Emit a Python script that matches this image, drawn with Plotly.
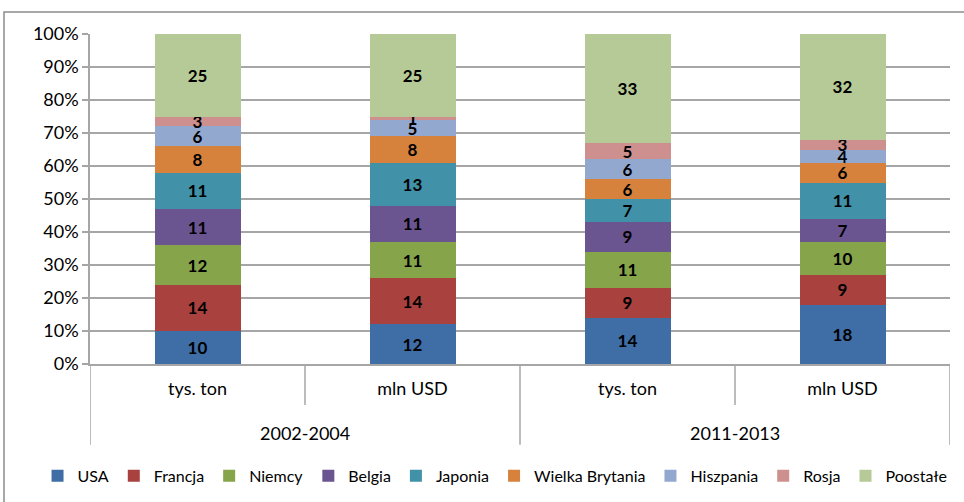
import plotly.graph_objects as go

periods = ["2002-2004", "2002-2004", "2011-2013", "2011-2013"]
units = ["tys. ton", "mln USD", "tys. ton", "mln USD"]

series_names = ["USA", "Francja", "Niemcy", "Belgia", "Japonia",
                "Wielka Brytania", "Hiszpania", "Rosja", "Poostałe"]
usa = [10, 12, 14, 18]
francja = [14, 14, 9, 9]
niemcy = [12, 11, 11, 10]
belgia = [11, 11, 9, 7]
japonia = [11, 13, 7, 11]
wielka_brytania = [8, 8, 6, 6]
hiszpania = [6, 5, 6, 4]
rosja = [3, 1, 5, 3]
pozostale = [25, 25, 33, 32]
series_values = [usa, francja, niemcy, belgia, japonia,
                 wielka_brytania, hiszpania, rosja, pozostale]
colors = ["#3F6EA6", "#A9413F", "#86A44A", "#6B5590", "#4192A8",
          "#D6823D", "#93A8CE", "#CE908F", "#B5CA96"]

y_ticks = [0, 10, 20, 30, 40, 50, 60, 70, 80, 90, 100]
y_tick_labels = [f"{v}%" for v in y_ticks]

FONT = "Lato, 'Liberation Sans', sans-serif"
GRID = "#A6A6A6"

# bar positions on the category scale (index of each bar)
xpos = list(range(len(units)))

fig = go.Figure()
for name, vals, col in zip(series_names, series_values, colors):
    fig.add_trace(go.Bar(
        x=xpos, y=vals, name=name,
        marker=dict(color=col, line=dict(width=0)),
        text=[str(v) for v in vals], textposition="inside",
        insidetextanchor="middle", textangle=0,
        textfont=dict(family=FONT, size=17, color="black", weight="bold"),
        constraintext="none",
    ))

# group (period) labels and divider lines of the two-level category axis
annotations = []
shapes = [dict(type="rect", xref="paper", yref="paper",
               x0=-0.1, y0=-0.6, x1=1.2, y1=1.0667,
               line=dict(color="#8C8C8C", width=1.5), layer="below")]
groups = []
for i, p in enumerate(periods):
    if not groups or groups[-1][0] != p:
        groups.append([p, i, i])
    else:
        groups[-1][2] = i
for p, i0, i1 in groups:
    annotations.append(dict(x=(i0 + i1) / 2, xref="x", y=-0.209, yref="paper",
                            text=p, showarrow=False, yanchor="middle",
                            font=dict(family=FONT, size=18, color="black")))
    shapes.append(dict(type="line", xref="x", yref="paper", x0=i0 - 0.5, x1=i0 - 0.5,
                       y0=0, y1=-0.245, line=dict(color=GRID, width=1.5)))
    for k in range(i0, i1):
        shapes.append(dict(type="line", xref="x", yref="paper", x0=k + 0.5, x1=k + 0.5,
                           y0=0, y1=-0.124, line=dict(color=GRID, width=1.5)))
shapes.append(dict(type="line", xref="x", yref="paper", x0=len(units) - 0.5,
                   x1=len(units) - 0.5, y0=0, y1=-0.245, line=dict(color=GRID, width=1.5)))

fig.update_layout(
    barmode="stack", barnorm="percent",
    width=964, height=502,
    margin=dict(l=90, r=14, t=34, b=138, autoexpand=False),
    paper_bgcolor="white", plot_bgcolor="white",
    bargap=0.6,
    font=dict(family=FONT, size=18, color="black"),
    showlegend=True,
    legend=dict(orientation="h", xref="paper", x=-0.061, xanchor="left",
                yref="paper", y=-0.339, yanchor="middle",
                font=dict(family=FONT, size=16), itemwidth=30,
                traceorder="normal", bgcolor="rgba(0,0,0,0)"),
    annotations=annotations,
    shapes=shapes,
)
fig.update_yaxes(range=[0, 100], tickvals=y_ticks, ticktext=y_tick_labels,
                 showgrid=True, gridcolor=GRID, gridwidth=1.5,
                 showline=True, linecolor=GRID, linewidth=1.5,
                 ticks="outside", ticklen=6, tickcolor=GRID, tickwidth=1.5,
                 tickfont=dict(family=FONT, size=18), zeroline=False,
                 automargin=False)
fig.update_xaxes(range=[-0.5, len(units) - 0.5], tickvals=xpos, ticktext=units,
                 showline=True, linecolor=GRID, linewidth=1.5, showgrid=False,
                 zeroline=False, tickfont=dict(family=FONT, size=18), ticks="",
                 ticklabelstandoff=8, automargin=False)
fig.write_html("out.html", config={"displayModeBar": False},
               post_script="document.body.style.margin='0';")
